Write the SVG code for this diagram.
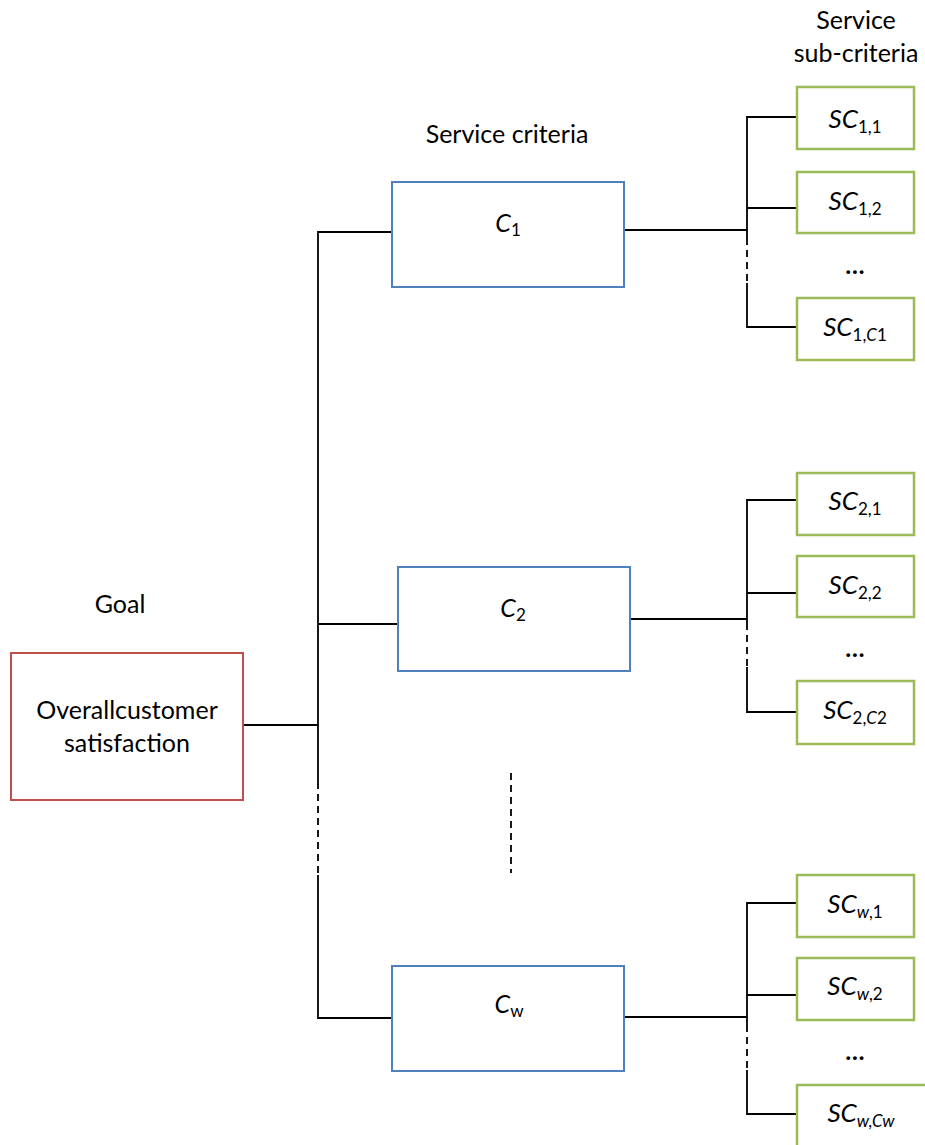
<svg xmlns="http://www.w3.org/2000/svg" width="925" height="1145" viewBox="0 0 925 1145">
  <style>
    text { font-family: Lato, "Open Sans", sans-serif; fill: #000; }
    .hdr { font-size: 25px; text-anchor: middle; }
    .lbl { font-size: 25px; text-anchor: middle; }
    .sc { font-size: 26px; text-anchor: middle; }
    .it { font-style: italic; }
    .sub { font-size: 17px; }
    .goal { fill: #fff; stroke: #C0504D; stroke-width: 2; }
    .crit { fill: #fff; stroke: #4F81BD; stroke-width: 2; }
    .subc { fill: #fff; stroke: #9BBB59; stroke-width: 2.5; }
    .ln { fill: none; stroke: #000; stroke-width: 1.8; }
    .dash { fill: none; stroke: #000; stroke-width: 1.8; stroke-dasharray: 7 5; }
  </style>

  <!-- column headings -->
  <g id="headings">
    <text class="hdr" x="856" y="29">Service</text>
    <text class="hdr" x="856" y="62">sub-criteria</text>
    <text class="hdr" x="507" y="143">Service criteria</text>
    <text class="hdr" x="120" y="613">Goal</text>
  </g>

  <!-- connectors -->
  <g id="connectors">
    <!-- goal to criteria bus -->
    <path class="ln" d="M243 725 H318"/>
    <path class="ln" d="M392 232 H318 V782"/>
    <path class="ln" d="M318 624 H398"/>
    <path class="dash" d="M318 782 V875"/>
    <path class="ln" d="M318 875 V1018 H392"/>
    <path class="dash" d="M511 773 V873"/>

    <!-- C1 branch -->
    <path class="ln" d="M624 230 H747"/>
    <path class="ln" d="M797 117 H747 V238"/>
    <path class="ln" d="M747 208 H797"/>
    <path class="dash" d="M747 238 V283"/>
    <path class="ln" d="M747 283 V327 H797"/>

    <!-- C2 branch -->
    <path class="ln" d="M630 619 H747"/>
    <path class="ln" d="M797 500 H747 V623"/>
    <path class="ln" d="M747 593 H797"/>
    <path class="dash" d="M747 623 V667"/>
    <path class="ln" d="M747 667 V712 H797"/>

    <!-- Cw branch -->
    <path class="ln" d="M624 1017 H747"/>
    <path class="ln" d="M797 903 H747 V1025"/>
    <path class="ln" d="M747 995 H797"/>
    <path class="dash" d="M747 1025 V1070"/>
    <path class="ln" d="M747 1070 V1114 H797"/>
  </g>

  <!-- goal -->
  <g id="goal">
    <rect class="goal" x="11" y="653" width="232" height="147"/>
    <text class="lbl" x="127" y="719">Overallcustomer</text>
    <text class="lbl" x="127" y="752">satisfaction</text>
  </g>

  <!-- criteria -->
  <g id="c1">
    <rect class="crit" x="392" y="182" width="232" height="105"/>
    <text class="lbl" x="508" y="232"><tspan class="it">C</tspan><tspan class="sub" dy="4">1</tspan></text>
  </g>
  <g id="c2">
    <rect class="crit" x="398" y="567" width="232" height="104"/>
    <text class="lbl" x="513" y="617"><tspan class="it">C</tspan><tspan class="sub" dy="4">2</tspan></text>
  </g>
  <g id="cw">
    <rect class="crit" x="392" y="966" width="232" height="105"/>
    <text class="lbl" x="509" y="1013"><tspan class="it">C</tspan><tspan class="sub" dy="4">w</tspan></text>
  </g>

  <!-- sub-criteria of C1 -->
  <g id="sc11">
    <rect class="subc" x="797" y="87" width="117" height="62"/>
    <text class="sc" x="855" y="128"><tspan class="it">SC</tspan><tspan class="sub" dy="5">1,1</tspan></text>
  </g>
  <g id="sc12">
    <rect class="subc" x="797" y="172" width="117" height="61"/>
    <text class="sc" x="855" y="210"><tspan class="it">SC</tspan><tspan class="sub" dy="5">1,2</tspan></text>
  </g>
  <g id="sc1-more">
    <text class="lbl" x="855" y="274" style="font-weight:bold">…</text>
  </g>
  <g id="sc1c1">
    <rect class="subc" x="797" y="298" width="117" height="62"/>
    <text class="sc" x="855" y="336"><tspan class="it">SC</tspan><tspan class="sub" dy="5">1,<tspan class="it">C</tspan>1</tspan></text>
  </g>

  <!-- sub-criteria of C2 -->
  <g id="sc21">
    <rect class="subc" x="797" y="473" width="117" height="62"/>
    <text class="sc" x="855" y="510"><tspan class="it">SC</tspan><tspan class="sub" dy="5">2,1</tspan></text>
  </g>
  <g id="sc22">
    <rect class="subc" x="797" y="556" width="117" height="61"/>
    <text class="sc" x="855" y="594"><tspan class="it">SC</tspan><tspan class="sub" dy="5">2,2</tspan></text>
  </g>
  <g id="sc2-more">
    <text class="lbl" x="855" y="657" style="font-weight:bold">…</text>
  </g>
  <g id="sc2c2">
    <rect class="subc" x="797" y="681" width="117" height="63"/>
    <text class="sc" x="855" y="719"><tspan class="it">SC</tspan><tspan class="sub" dy="5">2,<tspan class="it">C</tspan>2</tspan></text>
  </g>

  <!-- sub-criteria of Cw -->
  <g id="scw1">
    <rect class="subc" x="797" y="875" width="117" height="62"/>
    <text class="sc" x="855" y="913"><tspan class="it">SC</tspan><tspan class="sub it" dy="5">w</tspan><tspan class="sub">,1</tspan></text>
  </g>
  <g id="scw2">
    <rect class="subc" x="797" y="958" width="117" height="62"/>
    <text class="sc" x="855" y="995"><tspan class="it">SC</tspan><tspan class="sub it" dy="5">w</tspan><tspan class="sub">,2</tspan></text>
  </g>
  <g id="scw-more">
    <text class="lbl" x="855" y="1060" style="font-weight:bold">…</text>
  </g>
  <g id="scwcw">
    <rect class="subc" x="797" y="1085" width="135" height="70"/>
    <text class="sc" x="861" y="1122"><tspan class="it">SC</tspan><tspan class="sub it" dy="5">w,Cw</tspan></text>
  </g>
</svg>
